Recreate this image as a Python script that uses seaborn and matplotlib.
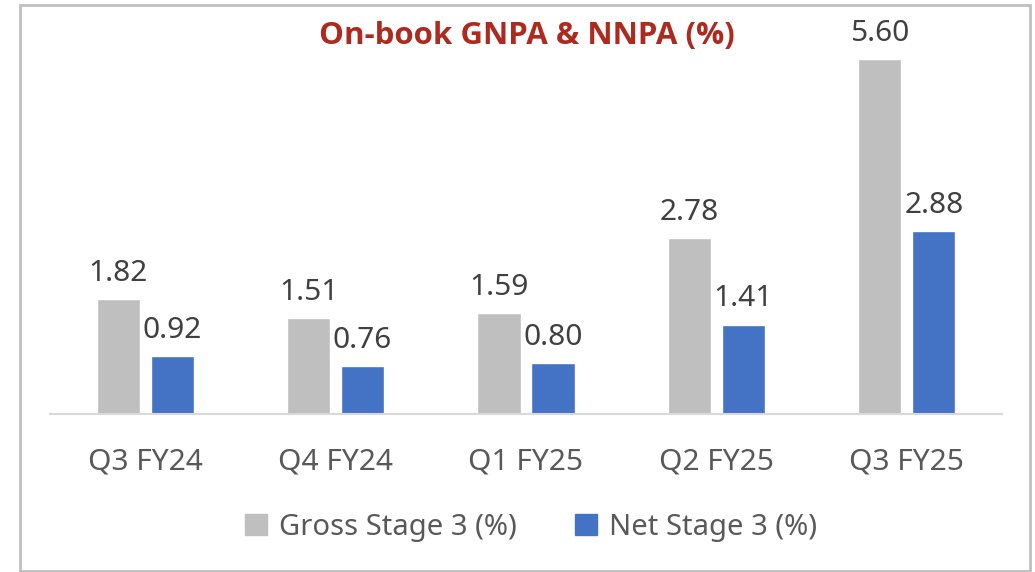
import pandas as pd
import matplotlib.pyplot as plt
import seaborn as sns
from matplotlib.patches import Rectangle

quarters = ['Q3 FY24', 'Q4 FY24', 'Q1 FY25', 'Q2 FY25', 'Q3 FY25']
gross = [1.82, 1.51, 1.59, 2.78, 5.60]
net = [0.92, 0.76, 0.80, 1.41, 2.88]
series = ['Gross Stage 3 (%)', 'Net Stage 3 (%)']
colors = ['#BFBFBF', '#4472C4']

df = pd.DataFrame({
    'Quarter': quarters * 2,
    'Value': gross + net,
    'Series': [series[0]] * len(quarters) + [series[1]] * len(quarters),
})

sns.set_style('white')
plt.rcParams['font.family'] = ['Noto Sans', 'DejaVu Sans']

W, H = 1035, 572
fig = plt.figure(figsize=(W / 100, H / 100), dpi=100)
ax = fig.add_axes([50 / W, 1 - 414 / H, 952 / W, (414 - 20) / H])

sns.barplot(data=df, x='Quarter', y='Value', hue='Series', palette=colors,
            saturation=1, width=0.567, gap=0.2, ax=ax, legend=False)

ax.set_ylim(0, (414 - 20) / 63.4)
ax.set_xlim(-0.5, len(quarters) - 0.5)
for c in ax.containers:
    ax.bar_label(c, fmt='%.2f', padding=8, fontsize=21.5, color='#404040')

ax.set_xlabel('')
ax.set_ylabel('')
ax.set_yticks([])
ax.tick_params(axis='x', length=0, labelsize=21.5, labelcolor='#595959', pad=24)
for s in ['top', 'right', 'left']:
    ax.spines[s].set_visible(False)
ax.spines['bottom'].set_color('#D9D9D9')
ax.spines['bottom'].set_linewidth(1.5)

fig.text(527 / W, 1 - 36 / H, 'On-book GNPA & NNPA (%)', ha='center', va='center',
         fontsize=22.5, fontweight='bold', color='#AE2A1E', family=['Open Sans', 'DejaVu Sans'])

handles = [Rectangle((0, 0), 1, 1, color=c) for c in colors]
fig.legend(handles, series, loc='center', bbox_to_anchor=(531 / W, 1 - 527 / H),
           ncol=2, frameon=False, fontsize=21, labelcolor='#595959',
           handlelength=0.75, handleheight=0.75, handletextpad=0.4, columnspacing=2.0)

fig.add_artist(Rectangle((20 / W, 1 - 571 / H), 1010 / W, 566 / H, transform=fig.transFigure,
                         fill=False, edgecolor='#BFBFBF', linewidth=2))

fig.savefig('out.png', dpi=100)
